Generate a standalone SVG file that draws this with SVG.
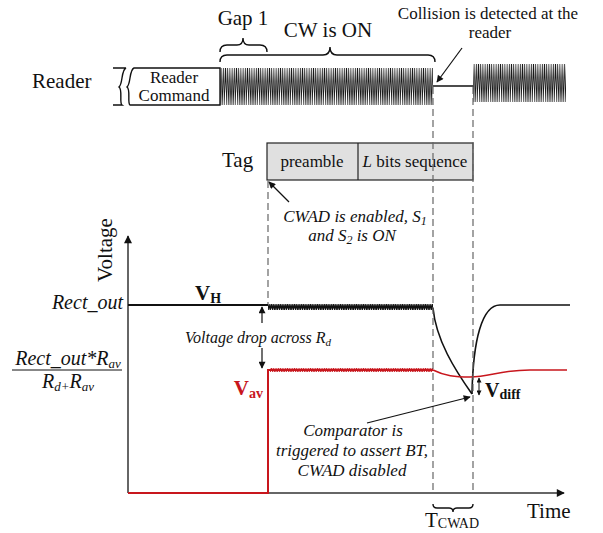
<svg xmlns="http://www.w3.org/2000/svg" width="603" height="533" viewBox="0 0 603 533">
<defs>
<style>
text{font-family:"Liberation Serif","Times New Roman",serif;fill:#111}
.lbl{font-size:21px;font-family:"Liberation Serif","Times New Roman",serif}
.sm{font-size:17px;font-family:"Liberation Serif","Times New Roman",serif}
.ann{font-size:17px;font-style:italic;font-family:"Liberation Serif","Times New Roman",serif}
.it{font-style:italic}
.b{font-weight:bold}
.red{fill:#c8161d}
.dash{stroke:#666;stroke-width:1.2;stroke-dasharray:7 4;fill:none}
.axis{stroke:#666;stroke-width:2;fill:none}
.ln{stroke:#111;stroke-width:1.4;fill:none}
.arr{stroke:#111;stroke-width:1.2;fill:none;marker-end:url(#ah)}
.darr{stroke:#111;stroke-width:1;fill:none;marker-start:url(#ah2);marker-end:url(#ah2)}
</style>
<marker id="ah" viewBox="0 0 10 10" refX="9" refY="5" markerWidth="10" markerHeight="7" orient="auto-start-reverse" markerUnits="userSpaceOnUse"><path d="M0,0 L10,5 L0,10 z" fill="#111"/></marker>
<marker id="ah2" viewBox="0 0 10 10" refX="9" refY="5" markerWidth="6" markerHeight="5" orient="auto-start-reverse" markerUnits="userSpaceOnUse"><path d="M0,0 L10,5 L0,10 z" fill="#111"/></marker>
<marker id="axh" viewBox="0 0 10 10" refX="9" refY="5" markerWidth="11" markerHeight="8" orient="auto" markerUnits="userSpaceOnUse"><path d="M0,0 L10,5 L0,10 z" fill="#111"/></marker>
<pattern id="cw1" patternUnits="userSpaceOnUse" x="220" y="68" width="2.2" height="37"><path d="M0,37 L1.1,0 L2.2,37" stroke="#1a1a1a" stroke-width="0.8" fill="none"/></pattern>
<pattern id="cw2" patternUnits="userSpaceOnUse" x="473" y="64" width="2.2" height="38"><path d="M0,38 L1.1,0 L2.2,38" stroke="#1a1a1a" stroke-width="0.8" fill="none"/></pattern>
<pattern id="zb" patternUnits="userSpaceOnUse" x="268" y="304" width="2.3" height="6"><path d="M0,6 L1.15,0 L2.3,6" stroke="#111" stroke-width="1.3" fill="none"/></pattern>
<pattern id="zr" patternUnits="userSpaceOnUse" x="268" y="368" width="2.3" height="4"><path d="M0,4 L1.15,0 L2.3,4" stroke="#c8161d" stroke-width="1" fill="none"/></pattern>
</defs>

<g id="reader">
<text class="lbl" x="32" y="88">Reader</text>
<path class="ln" d="M113,68 L126,68 C121,70 123,84 119,87 C123,90 119,103 122,105 L113,105" />
<path class="ln" d="M134,68 C129,70 131,84 127,87 C131,90 127,103 130,105 L220,105 L220,68 Z" />
<text class="sm" x="174" y="83" text-anchor="middle">Reader</text>
<text class="sm" x="174" y="101" text-anchor="middle">Command</text>
<rect x="220" y="68" width="213" height="37" fill="url(#cw1)"/>
<line class="ln" x1="433" y1="86" x2="473" y2="86"/>
<rect x="473" y="64" width="93" height="38" fill="url(#cw2)"/>
</g>

<g id="gap1">
<path class="ln" stroke-width="1" d="M220,52 Q220,45 227,45 L237,45 Q243,45 243,38 Q243,45 249,45 L260,45 Q267,45 267,52"/>
<text class="lbl" x="243" y="25" text-anchor="middle">Gap 1</text>
</g>
<g id="cwon">
<path class="ln" stroke-width="1" d="M220,62 Q220,55 227,55 L323,55 Q330,55 330,47 Q330,55 337,55 L428,55 Q435,55 435,62"/>
<text class="lbl" x="328" y="37" text-anchor="middle">CW is ON</text>
</g>
<g id="collision">
<text class="sm" x="488" y="19" text-anchor="middle">Collision is detected at the</text>
<text class="sm" x="490" y="38" text-anchor="middle">reader</text>
</g>

<g id="tag">
<text class="lbl" x="222" y="167">Tag</text>
<rect x="267" y="143" width="206" height="37" fill="#e0e0e0" stroke="#222" stroke-width="1.2"/>
<line x1="358" y1="143" x2="358" y2="180" stroke="#222" stroke-width="1.2"/>
<text class="sm" x="312" y="167" text-anchor="middle">preamble</text>
<text class="sm" x="415" y="167" text-anchor="middle"><tspan class="it">L</tspan> bits sequence</text>
</g>

<g id="cwad-note">
<text class="ann" x="355" y="222" text-anchor="middle">CWAD is enabled, S<tspan font-size="12" dy="3">1</tspan></text>
<text class="ann" x="352" y="241" text-anchor="middle">and S<tspan font-size="12" dy="3">2</tspan><tspan dy="-3"> is ON</tspan></text>
</g>

<g id="axes">
<text class="lbl" transform="translate(112,250) rotate(-90)" text-anchor="middle">Voltage</text>
<line class="axis" x1="128" y1="493" x2="128" y2="236" marker-end="url(#axh)"/>
<line class="axis" x1="128" y1="493" x2="564" y2="493" marker-end="url(#axh)"/>
<text class="lbl" x="527" y="518">Time</text>
</g>

<g id="levels">
<text class="it" font-size="20" x="123" y="309" text-anchor="end">Rect_out</text>
<text class="it" font-size="20" x="68" y="365" text-anchor="middle">Rect_out*R<tspan font-size="13" dy="3">av</tspan></text>
<line x1="12" y1="370" x2="122" y2="370" stroke="#111" stroke-width="1"/>
<text class="it" font-size="20" x="68" y="388" text-anchor="middle">R<tspan font-size="13" dy="3">d+</tspan><tspan dy="-3">R</tspan><tspan font-size="13" dy="3">av</tspan></text>
</g>

<g id="vh-signal">
<line x1="128" y1="305" x2="268" y2="305" stroke="#111" stroke-width="2"/>
<line x1="268" y1="307" x2="433" y2="307" stroke="#111" stroke-width="2.5"/>
<rect x="268" y="304" width="165" height="6" fill="url(#zb)"/>
<path d="M433,308 C436,340 455,370 472,394" stroke="#111" stroke-width="1.6" fill="none"/>
<path d="M472,394 C473,340 482,305 500,305 L570,305" stroke="#111" stroke-width="1.6" fill="none"/>
<text class="b" font-size="21" x="195" y="300">V<tspan font-size="14" dy="3">H</tspan></text>
</g>

<g id="vav-signal">
<path d="M128,493 L268,493 L268,370 L433,370" stroke="#c8161d" stroke-width="2" fill="none"/>
<rect x="270" y="368" width="163" height="4" fill="url(#zr)"/>
<path d="M433,370 C445,376 455,377 470,377 C490,377 500,370 530,370 L567,370" stroke="#c8161d" stroke-width="1.4" fill="none"/>
<text class="b red" font-size="21" x="263" y="395" text-anchor="end">V<tspan font-size="14" dy="3">av</tspan></text>
</g>

<g id="vdrop">
<text class="it" font-size="16" x="185" y="343">Voltage drop across R<tspan font-size="11" dy="3">d</tspan></text>
</g>

<g id="vdiff">
<text class="b" font-size="20" x="485" y="397">V<tspan font-size="14" dy="2">diff</tspan></text>
</g>

<g id="comparator-note">
<text class="ann" x="353" y="436" text-anchor="middle">Comparator is</text>
<text class="ann" x="352" y="456" text-anchor="middle">triggered to assert BT,</text>
<text class="ann" x="352" y="476" text-anchor="middle">CWAD disabled</text>
</g>

<g id="tcwad">
<path class="ln" stroke-width="1" d="M433,504 Q433,508 437,508 L449,508 Q453,508 453,512 Q453,508 457,508 L469,508 Q473,508 473,504"/>
<text class="lbl" font-size="20" x="425" y="527">T<tspan font-size="14" dy="1">CWAD</tspan></text>
</g>

<g id="connectors">
<line class="dash" x1="433" y1="87" x2="433" y2="492"/>
<line class="dash" x1="473" y1="87" x2="473" y2="492"/>
<line class="dash" x1="268" y1="181" x2="268" y2="304"/>
<line class="arr" x1="462" y1="48" x2="437" y2="82"/>
<line class="arr" x1="289" y1="202" x2="269" y2="182"/>
<line class="arr" x1="367" y1="423" x2="470" y2="397"/>
<line class="arr" x1="262" y1="323" x2="262" y2="307"/>
<line class="arr" x1="262" y1="348" x2="262" y2="368"/>
<line class="darr" x1="479" y1="378" x2="479" y2="395"/>
</g>
</svg>
